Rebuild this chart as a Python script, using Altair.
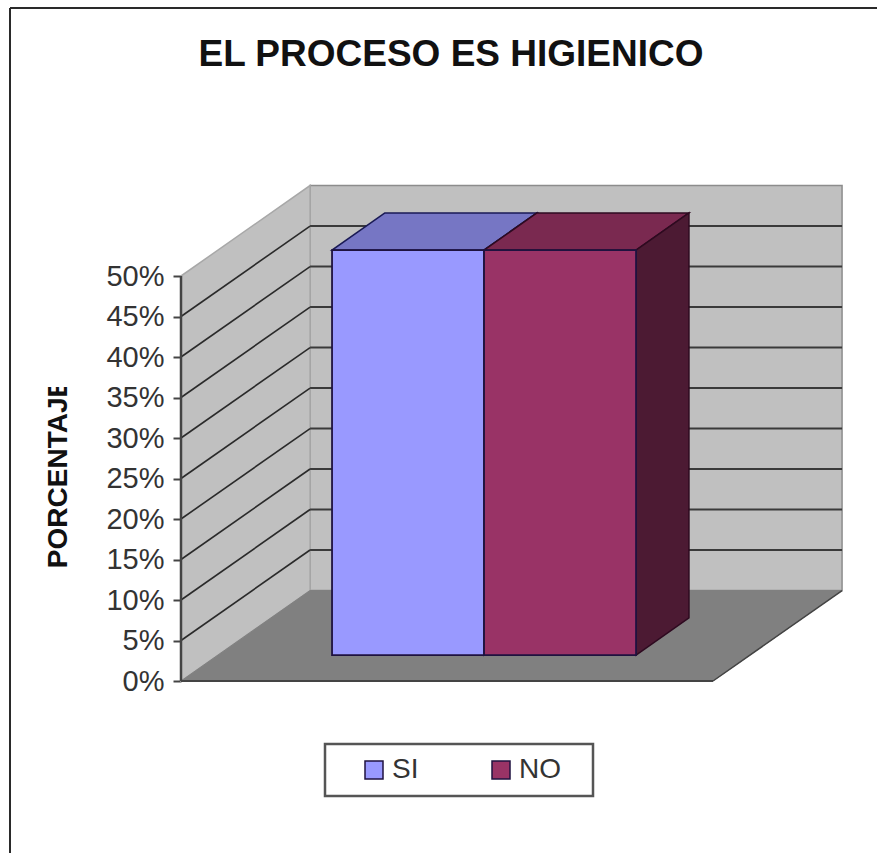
import altair as alt
import pandas as pd

# Chart values
categories = ["SI", "NO"]
percentages = [50, 50]
tick_values = [0, 5, 10, 15, 20, 25, 30, 35, 40, 45, 50]
grid_values = [5, 10, 15, 20, 25, 30, 35, 40, 45]

front_colors = ["#9999FF", "#993366"]
top_colors = ["#7676C4", "#7A2950"]
side_colors = ["#5A5AA0", "#4C1A33"]
edge_colors = ["#1A1A55", "#2E0A20"]

# Oblique projection: category units run along x, percent along y,
# and one unit of depth shifts a point right and up by these amounts.
DEPTH_X = 0.849
DEPTH_Y = 11.17
FLOOR_W = 3.5
GAP = 0.75
BAR_D0 = 0.287
BAR_D1 = 0.697
X_MAX = 4.342
Y_MAX = 61.36

x_scale = alt.Scale(domain=[0, X_MAX], nice=False, zero=False)
y_scale = alt.Scale(domain=[0, Y_MAX], nice=False, zero=False)
percent_axis = alt.Axis(
    title="PORCENTAJE",
    values=tick_values,
    labelExpr="datum.value + '%'",
    grid=False,
    domain=False,
    tickSize=8,
    tickWidth=2,
    tickColor="#444444",
    labelPadding=9,
    labelFont="Liberation Sans",
    labelFontSize=29,
    labelColor="#333333",
    titleFont="Liberation Sans",
    titleFontSize=28,
    titleFontWeight="bold",
    titleColor="#111111",
    titleX=-109,
    titleY=289,
    titleAngle=270,
)
X = alt.X("x:Q", scale=x_scale, axis=None)
X2 = alt.X2("x2")
Y = alt.Y("y:Q", scale=y_scale, axis=percent_axis)
Y2 = alt.Y2("y2")


def side_face(u, d0, d1, low, high, fill, stroke, width=1.5):
    """Face standing upright, running back in depth."""
    df = pd.DataFrame({
        "x": [u + d0 * DEPTH_X, u + d1 * DEPTH_X],
        "y": [low + d0 * DEPTH_Y, low + d1 * DEPTH_Y],
        "y2": [high + d0 * DEPTH_Y, high + d1 * DEPTH_Y],
    })
    return alt.Chart(df).mark_area(fill=fill, stroke=stroke, strokeWidth=width, opacity=1).encode(x=X, y=Y, y2=Y2)


def flat_face(u0, u1, d0, d1, level, fill, stroke, width=1.5):
    """Horizontal face: a floor or the lid of a bar."""
    df = pd.DataFrame({
        "y": [level + d0 * DEPTH_Y, level + d1 * DEPTH_Y],
        "x": [u0 + d0 * DEPTH_X, u0 + d1 * DEPTH_X],
        "x2": [u1 + d0 * DEPTH_X, u1 + d1 * DEPTH_X],
    })
    return alt.Chart(df).mark_area(orient="horizontal", fill=fill, stroke=stroke, strokeWidth=width, opacity=1).encode(x=X, x2=X2, y=Y)


def segment(x0, y0, x1, y1, color, width):
    df = pd.DataFrame({"x": [x0, x1], "y": [y0, y1]})
    return alt.Chart(df).mark_line(color=color, strokeWidth=width).encode(x=X, y=Y)


layers = []

# Back wall, side wall and floor
back_df = pd.DataFrame({"x": [DEPTH_X], "x2": [DEPTH_X + FLOOR_W], "y": [DEPTH_Y], "y2": [DEPTH_Y + 50]})
layers.append(
    alt.Chart(back_df).mark_rect(fill="#C0C0C0", stroke="#8C8C8C", strokeWidth=1.5).encode(x=X, x2=X2, y=Y, y2=Y2)
)
layers.append(side_face(0, 0, 1, 0, 50, "#C0C0C0", "#A8A8A8", 1.5))
layers.append(flat_face(0, FLOOR_W, 0, 1, 0, "#808080", "#808080", 1))

# Grid lines on both walls
for p in grid_values:
    layers.append(segment(0, p, DEPTH_X, p + DEPTH_Y, "#2A2A2A", 1.6))
    layers.append(segment(DEPTH_X, p + DEPTH_Y, DEPTH_X + FLOOR_W, p + DEPTH_Y, "#3A3A3A", 2))

# Front edges of the floor and the vertical axis line
layers.append(segment(0, 0, FLOOR_W, 0, "#444444", 2))
layers.append(segment(FLOOR_W, 0, FLOOR_W + DEPTH_X, DEPTH_Y, "#444444", 1.5))
layers.append(segment(0, 0, 0, 50, "#444444", 2.5))

# Bars: lid and side first, then the front face carrying the colour legend
for i, (cat, val) in enumerate(zip(categories, percentages)):
    u0 = GAP + i
    u1 = u0 + 1
    layers.append(flat_face(u0, u1, BAR_D0, BAR_D1, val, top_colors[i], edge_colors[i]))
    layers.append(side_face(u1, BAR_D0, BAR_D1, 0, val, side_colors[i], edge_colors[i]))

# Box behind the legend entries
layers.append(
    alt.Chart(pd.DataFrame({"k": [0]})).mark_rect(fill="white", stroke="#555555", strokeWidth=2.5).encode(
        x=alt.value(144), x2=alt.value(412), y=alt.value(560), y2=alt.value(612)
    )
)

# White band that trims the end of the rotated axis title
layers.append(
    alt.Chart(pd.DataFrame({"k": [0]})).mark_rect(fill="white").encode(
        x=alt.value(-140), x2=alt.value(-105), y=alt.value(180), y2=alt.value(203)
    )
)

front_df = pd.DataFrame({
    "serie": categories,
    "x": [GAP + i + BAR_D0 * DEPTH_X for i in range(len(categories))],
    "x2": [GAP + i + 1 + BAR_D0 * DEPTH_X for i in range(len(categories))],
    "y": [BAR_D0 * DEPTH_Y] * len(categories),
    "y2": [v + BAR_D0 * DEPTH_Y for v in percentages],
})
layers.append(
    alt.Chart(front_df).mark_rect(stroke="#1F1240", strokeWidth=1.8).encode(
        x=X, x2=X2, y=Y, y2=Y2,
        color=alt.Color(
            "serie:N",
            scale=alt.Scale(domain=categories, range=front_colors),
            sort=categories,
            legend=alt.Legend(
                title=None,
                orient="none",
                direction="horizontal",
                columns=2,
                legendX=144,
                legendY=559,
                padding=13,
                symbolType="square",
                symbolSize=324,
                symbolStrokeColor="#1F1240",
                symbolStrokeWidth=1.5,
                symbolOffset=22,
                labelFont="Liberation Sans",
                labelFontSize=28,
                labelColor="#333333",
                columnPadding=46,
            ),
        ),
    )
)

# Outer frame of the figure, open towards the right and the bottom
layers.append(
    alt.Chart(pd.DataFrame({"k": [0]})).mark_rule(color="#2A2A2A", strokeWidth=2).encode(
        x=alt.value(-171), x2=alt.value(696), y=alt.value(-176)
    )
)
layers.append(
    alt.Chart(pd.DataFrame({"k": [0]})).mark_rule(color="#2A2A2A", strokeWidth=2).encode(
        x=alt.value(-171), y=alt.value(-176), y2=alt.value(669)
    )
)

chart = alt.layer(*layers).properties(
    width=660,
    height=497,
    background="white",
    padding={"left": 181, "top": 184, "right": 36, "bottom": 172},
    autosize=alt.AutoSizeParams(type="none"),
    title=alt.Title(
        "EL PROCESO ES HIGIENICO",
        anchor="middle",
        frame="group",
        dx=-60,
        offset=-67,
        font="Liberation Sans",
        fontSize=37,
        fontWeight="bold",
        color="#111111",
    ),
).configure_view(stroke=None, strokeWidth=0)

chart.save("out.html", embed_options={"renderer": "svg", "actions": False})
